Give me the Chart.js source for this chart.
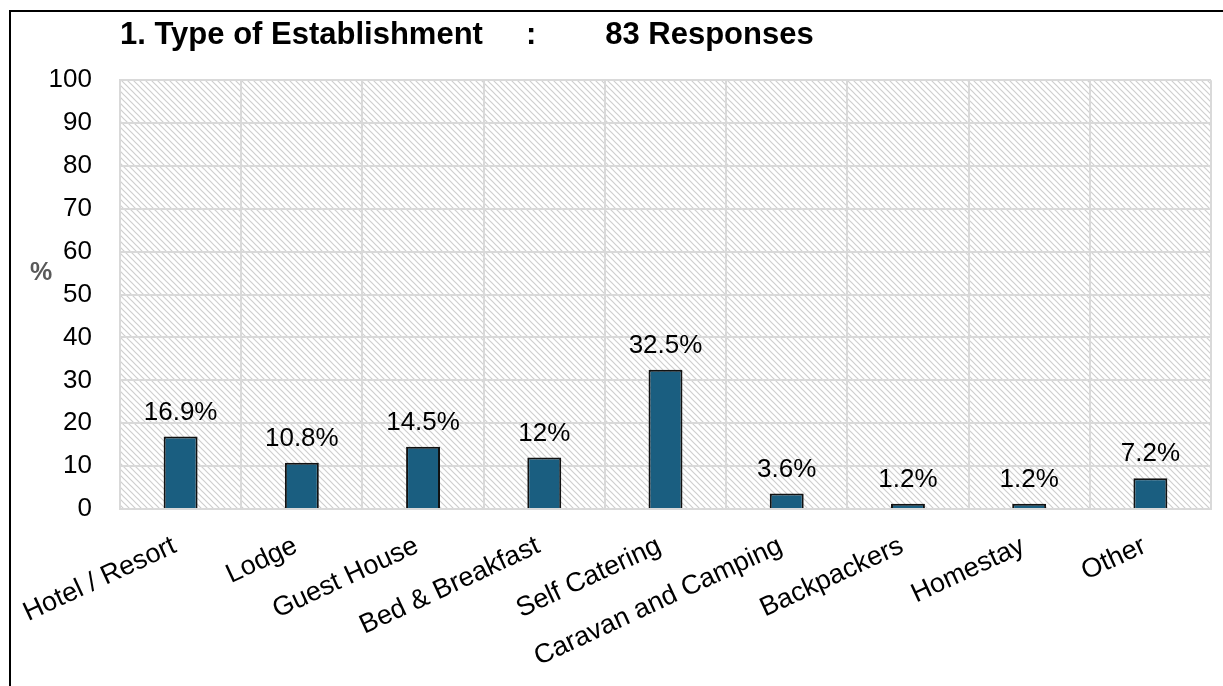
<!DOCTYPE html>
<html>
<head>
<meta charset="utf-8">
<script src="https://cdn.jsdelivr.net/npm/chart.js@4.4.1/dist/chart.umd.min.js"></script>
<style>
  html, body { margin: 0; padding: 0; background: #fff; }
  .frame {
    position: absolute; left: 9px; top: 10px;
    width: 1212px; height: 674px;
    border-left: 2px solid #000; border-top: 2px solid #000;
  }
  .frame canvas { display: block; }
</style>
</head>
<body>
<div class="frame">
  <canvas id="estChart" width="1212" height="674"></canvas>
</div>
<script>
// survey answers, in percent of 83 responses
const categories = ['Hotel / Resort', 'Lodge', 'Guest House', 'Bed & Breakfast', 'Self Catering',
                    'Caravan and Camping', 'Backpackers', 'Homestay', 'Other'];
const percentages = [16.9, 10.8, 14.5, 12, 32.5, 3.6, 1.2, 1.2, 7.2];
const yTicks = [0, 10, 20, 30, 40, 50, 60, 70, 80, 90, 100];

const FONT = "'Liberation Sans', Arial, sans-serif";

// light diagonal hatching for the plot background
function makeHatch() {
  const c = document.createElement('canvas');
  c.width = 6; c.height = 6;
  const g = c.getContext('2d');
  g.fillStyle = '#fff';
  g.fillRect(0, 0, 6, 6);
  g.strokeStyle = '#cfcfcf';
  g.lineWidth = 1.2;
  g.beginPath();
  g.moveTo(-1, -1); g.lineTo(7, 7);
  g.moveTo(-1, 5); g.lineTo(1, 7);
  g.moveTo(5, -1); g.lineTo(7, 1);
  g.stroke();
  return g.createPattern(c, 'repeat');
}

const hatchBackground = {
  id: 'hatchBackground',
  beforeDraw(chart) {
    const { ctx, chartArea: a } = chart;
    ctx.save();
    ctx.fillStyle = makeHatch();
    ctx.fillRect(a.left, a.top, a.right - a.left, a.bottom - a.top);
    ctx.restore();
  }
};

// value labels above the bars and the unrotated "%" axis caption
const barLabels = {
  id: 'barLabels',
  afterDatasetsDraw(chart) {
    const { ctx } = chart;
    const meta = chart.getDatasetMeta(0);
    ctx.save();
    ctx.font = '26px ' + FONT;
    ctx.fillStyle = '#000';
    ctx.textAlign = 'center';
    ctx.textBaseline = 'alphabetic';
    meta.data.forEach((bar, i) => {
      ctx.fillText(percentages[i] + '%', bar.x, bar.y - 17);
    });
    ctx.font = 'bold 25px ' + FONT;
    ctx.fillStyle = '#595959';
    ctx.textBaseline = 'middle';
    ctx.fillText('%', 30, chart.scales.y.getPixelForValue(55));
    ctx.restore();
  }
};

new Chart(document.getElementById('estChart'), {
  type: 'bar',
  data: {
    labels: categories,
    datasets: [{
      data: percentages,
      backgroundColor: '#1a5e80',
      borderColor: '#111',
      borderWidth: 2,
      borderSkipped: 'bottom',
      barPercentage: 0.28,
      categoryPercentage: 1
    }]
  },
  options: {
    responsive: false,
    animation: false,
    layout: { padding: { left: 0, right: 12, top: 0, bottom: 0 } },
    plugins: {
      legend: { display: false },
      tooltip: { enabled: false },
      title: {
        display: true,
        text: '1. Type of Establishment     :        83 Responses',
        align: 'start',
        fullSize: false,
        color: '#000',
        font: { family: FONT, size: 31, weight: 'bold' },
        padding: { top: 5, bottom: 26 }
      }
    },
    scales: {
      x: {
        grid: { color: '#d9d9d9', lineWidth: 2, drawTicks: false, offset: true },
        border: { color: '#d9d9d9', width: 2 },
        ticks: {
          color: '#000',
          font: { family: FONT, size: 27 },
          maxRotation: 25, minRotation: 25,
          padding: 21, autoSkip: false,
          labelOffset: -6
        },
        afterFit(s) {
          s.height = 177;
          // rotated labels may hang left of the plot; keep the plot where it is
          s.paddingLeft = 0;
          s.paddingRight = 0;
        }
      },
      y: {
        min: 0, max: 100,
        grid: { color: '#d9d9d9', lineWidth: 2, drawTicks: false },
        border: { color: '#d9d9d9', width: 2 },
        afterBuildTicks(s) { s.ticks = yTicks.map(v => ({ value: v })); },
        ticks: {
          color: '#000',
          font: { family: FONT, size: 26 },
          padding: 28
        },
        afterFit(s) { s.width = 109; }
      }
    }
  },
  plugins: [hatchBackground, barLabels]
});
</script>
</body>
</html>
